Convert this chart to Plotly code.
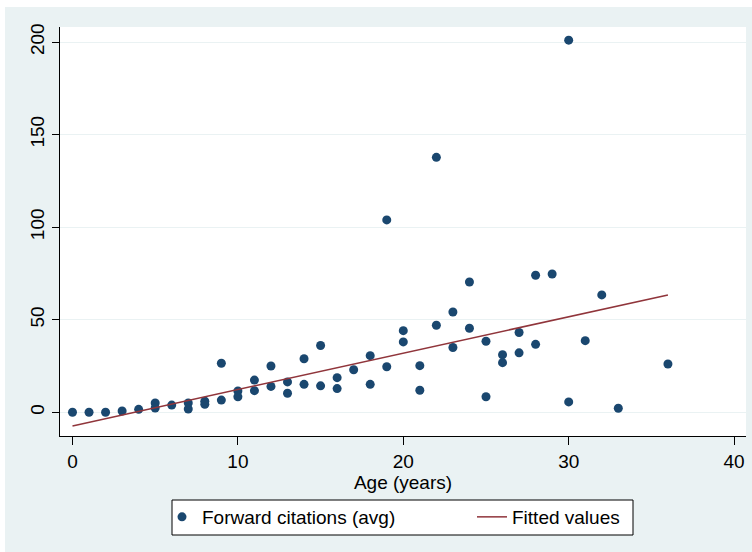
import plotly.graph_objects as go

# Scatter data: age (years) and average forward citations
age = [0, 1, 2, 3, 4, 5, 5, 6, 7, 7, 8, 8, 9, 9, 10, 10, 11, 11, 12, 12,
       13, 13, 14, 14, 15, 15, 16, 16, 17, 18, 18, 19, 19, 20, 20, 21, 21,
       22, 22, 23, 23, 24, 24, 25, 25, 26, 26, 27, 27, 28, 28, 29, 30, 30,
       31, 32, 33, 36]
citations = [0, 0, 0, 0.7, 1.6, 5.0, 2.3, 3.9, 5.0, 1.8, 6.0, 4.3, 26.5, 6.6,
             11.5, 8.4, 17.4, 11.7, 25.0, 14.0, 16.4, 10.3, 28.9, 15.1, 36.1,
             14.3, 18.7, 12.8, 23.0, 30.6, 15.1, 103.9, 24.6, 44.1, 38.0, 25.2,
             11.9, 137.7, 47.0, 54.2, 35.0, 70.4, 45.4, 38.4, 8.4, 31.1, 26.8,
             43.1, 32.1, 74.0, 36.7, 74.7, 201.0, 5.6, 38.7, 63.4, 2.2, 26.1]

# Fitted values (linear fit) at the ends of the data range
fit_age = [0, 36]
fit_values = [-7.4, 63.4]

x_ticks = [0, 10, 20, 30, 40]
y_ticks = [0, 50, 100, 150, 200]

NAVY = "#1a476f"
MAROON = "#90353b"
BG = "#eaf2f3"
FONT = "Liberation Sans, Arial, sans-serif"
FS = 19

W, H = 752, 552
L, R, T, B = 60, 6, 27, 116
pw, ph = W - L - R, H - T - B


def px_to_paper_x(px):
    return (px - L) / pw


def px_to_paper_y(py):
    return (H - B - py) / ph


fig = go.Figure()
fig.add_trace(go.Scatter(
    x=age, y=citations, mode="markers", name="Forward citations (avg)",
    marker=dict(color=NAVY, size=9, line=dict(width=0)),
    legend="legend",
))
fig.add_trace(go.Scatter(
    x=fit_age, y=fit_values, mode="lines", name="Fitted values",
    line=dict(color=MAROON, width=1.5),
    legend="legend2",
))

# background of the graph region and white plot region
fig.add_shape(type="rect", xref="paper", yref="paper",
              x0=px_to_paper_x(5), x1=px_to_paper_x(W + 5),
              y0=px_to_paper_y(H + 5), y1=px_to_paper_y(7),
              fillcolor=BG, line=dict(width=0), layer="below")
fig.add_shape(type="rect", xref="paper", yref="paper",
              x0=0, x1=1, y0=0, y1=1,
              fillcolor="white", line=dict(width=0), layer="below")
# legend frame
fig.add_shape(type="rect", xref="paper", yref="paper",
              x0=px_to_paper_x(172), x1=px_to_paper_x(633),
              y0=px_to_paper_y(535), y1=px_to_paper_y(500),
              fillcolor="white", line=dict(color="#000000", width=1), layer="below")

leg_common = dict(
    orientation="h", yanchor="middle", y=px_to_paper_y(517),
    bgcolor="rgba(0,0,0,0)", borderwidth=0,
    font=dict(family=FONT, size=FS, color="#000000"),
)

fig.update_layout(
    width=W, height=H,
    margin=dict(l=L, r=R, t=T, b=B, pad=0, autoexpand=False),
    paper_bgcolor="white",
    plot_bgcolor="rgba(0,0,0,0)",
    font=dict(family=FONT, size=FS, color="#000000"),
    showlegend=True,
    legend=dict(x=px_to_paper_x(162), xanchor="left", **leg_common),
    legend2=dict(x=px_to_paper_x(472), xanchor="left", **leg_common),
    xaxis=dict(
        range=[-0.755, 40.72], tickvals=x_ticks, ticks="outside", ticklen=8,
        tickcolor="#000000", tickwidth=1.2, automargin=False,
        showline=True, linecolor="#000000", linewidth=1.2, showgrid=False,
        zeroline=False, tickfont=dict(size=FS),
        title=dict(text="Age (years)", font=dict(size=FS), standoff=0),
    ),
    yaxis=dict(
        range=[-12.8, 208.1], tickvals=y_ticks, ticks="outside", ticklen=7,
        tickcolor="#000000", tickwidth=1.2, tickangle=-90, automargin=False,
        showline=True, linecolor="#000000", linewidth=1.2,
        showgrid=True, gridcolor=BG, gridwidth=1, zeroline=False,
        tickfont=dict(size=FS),
    ),
)

fig.write_html(
    "out.html",
    config={"displayModeBar": False},
    post_script="document.body.style.margin='0';document.body.style.padding='0';",
)
